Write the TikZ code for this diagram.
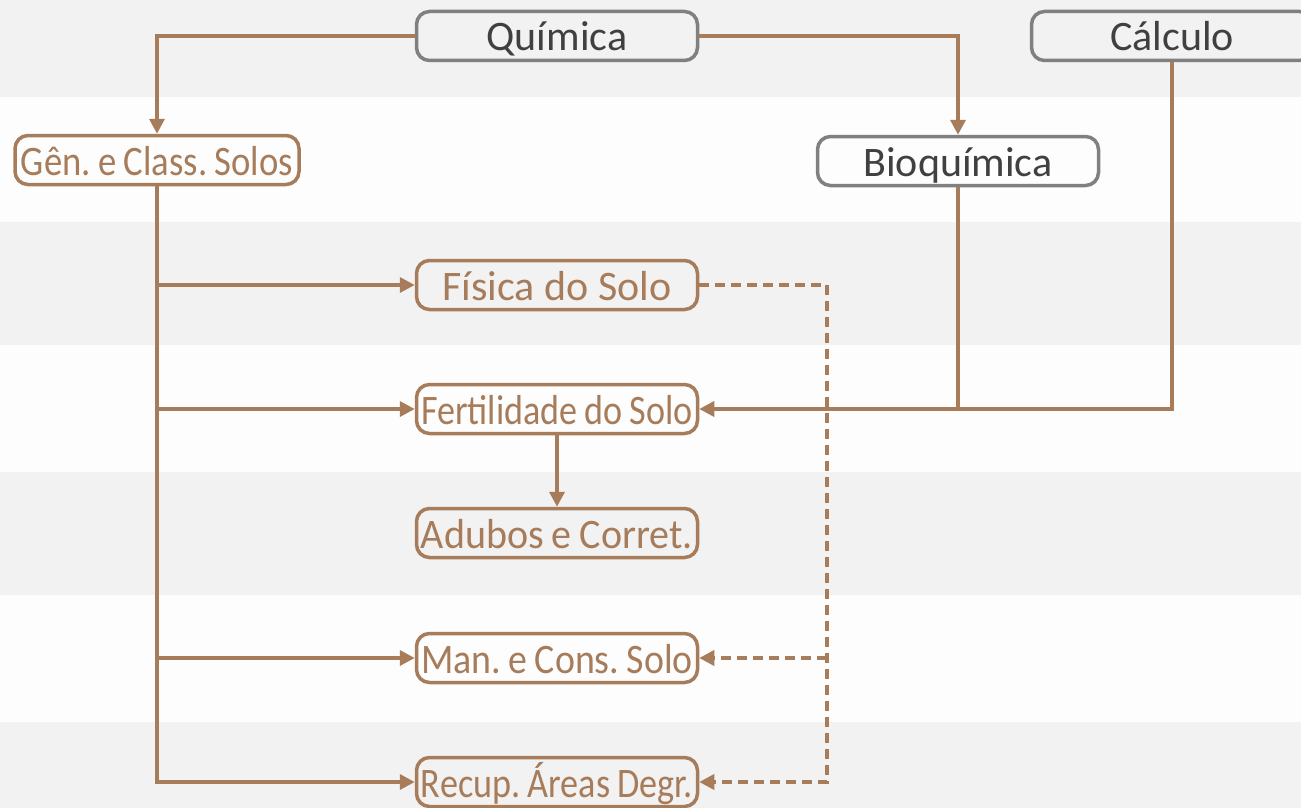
\documentclass[tikz,border=0pt]{standalone}
\usepackage{fontspec}
\setmainfont{Carlito}
\usepackage{graphicx}
\usepackage{xcolor}
\usetikzlibrary{arrows.meta}

\definecolor{soil}{RGB}{166,124,91}
\definecolor{band}{RGB}{242,242,242}
\definecolor{paper}{RGB}{253,253,253}
\definecolor{boxgray}{RGB}{128,128,128}
\definecolor{txtgray}{RGB}{64,64,64}

\newcommand{\squeeze}[1]{\resizebox{272pt}{\height}{\frenchspacing\spaceskip=0.2em\relax #1}}

\begin{document}
\begin{tikzpicture}[x=1pt, y=-1pt,
	box/.style={draw, rounded corners=13pt, line width=3.5pt, minimum width=281pt, minimum height=49pt,
		inner sep=0pt, text height=30pt, text depth=0pt, font=\fontsize{42}{46}\selectfont},
	greybox/.style={box, draw=boxgray, text=txtgray},
	soilbox/.style={box, draw=soil, text=soil},
	wire/.style={soil, line width=3.5pt},
	link/.style={wire, -{Triangle[length=15pt, width=15pt]}},
	dlink/.style={link, dash pattern=on 10pt off 6pt}]
	\def\dashx{827};
	
	\clip (0,0) rectangle (1301,808);
	\fill [paper] (0,0) rectangle (1301,808);
	\foreach \top/\bot in {0/97, 222/345, 472/595, 722/808}
		\fill [band] (0,\top) rectangle (1301,\bot);
	
	\node [greybox] (quimica) at (557,36) {Química};
	\node [greybox] (calculo) at (1172,36) {Cálculo};
	\node [greybox] (bioquimica) at (958,161) {Bioquímica};
	\node [soilbox, minimum width=284pt] (genese) at (157,160) {\squeeze{Gên. e Class. Solos}};
	\node [soilbox] (fisica) at (557,285) {Física do Solo};
	\node [soilbox] (fertilidade) at (557,409) {\squeeze{Fertilidade do Solo}};
	\node [soilbox] (adubos) at (557,533) {\squeeze{Adubos e Corret.}};
	\node [soilbox] (manejo) at (557,658) {\squeeze{Man. e Cons. Solo}};
	\node [soilbox] (recup) at (557,782) {\squeeze{Recup. Áreas Degr.}};
	\coordinate (dash) at (\dashx,285);
	
	\draw [link] (quimica.west) -| (genese.north);
	\draw [link] (quimica.east) -| (bioquimica.north);
	
	\draw [link] (genese.south) |- (recup.west);
	\draw [link] (genese.south |- fisica.west) -- (fisica.west);
	\draw [link] (genese.south |- fertilidade.west) -- (fertilidade.west);
	\draw [link] (genese.south |- manejo.west) -- (manejo.west);
	
	\draw [link] (calculo.south) |- (fertilidade.east);
	\draw [wire] (bioquimica.south) -- (bioquimica.south |- fertilidade.east);
	\draw [link] (fertilidade.south) -- (adubos.north);
	
	\draw [dlink] (fisica.east) -- (dash) |- (recup.east);
	\draw [dlink] (dash |- manejo.east) -- (manejo.east);
\end{tikzpicture}
\end{document}
